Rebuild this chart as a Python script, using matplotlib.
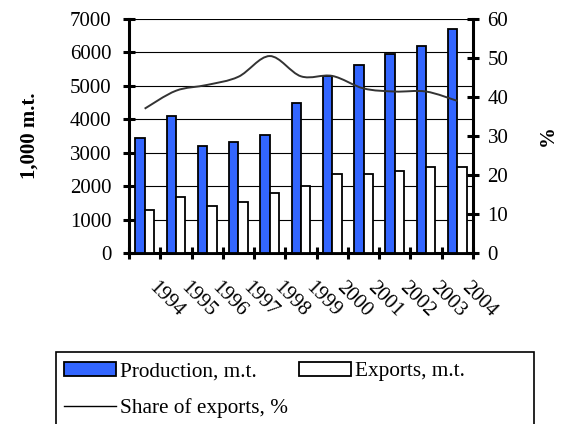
import matplotlib
matplotlib.use("Agg")
import matplotlib.pyplot as plt
import numpy as np
from matplotlib.path import Path
from matplotlib.patches import PathPatch, Patch, Rectangle
from matplotlib.lines import Line2D
from matplotlib.transforms import ScaledTranslation

years = ["1994", "1995", "1996", "1997", "1998", "1999", "2000", "2001", "2002", "2003", "2004"]
production = [3430, 4090, 3200, 3310, 3530, 4480, 5280, 5620, 5960, 6180, 6690]
exports = [1290, 1680, 1400, 1520, 1790, 2010, 2370, 2370, 2460, 2580, 2580]
share = [37.0, 41.6, 43.1, 45.2, 50.5, 45.3, 45.4, 42.2, 41.4, 41.4, 39.0]

plt.rcParams['font.family'] = ['Liberation Serif', 'DejaVu Serif']
FS = 15

fig = plt.figure(figsize=(5.63, 4.24), dpi=100)
ax = fig.add_axes([129/563, 1 - 253/424, (473 - 129)/563, (253 - 19)/424])
ax2 = ax.twinx()

x = np.arange(len(years))
blue = '#3366FF'
ax.bar(x - 0.15, production, width=0.3, color=blue, edgecolor='black', linewidth=1.3, zorder=3)
ax.bar(x + 0.15, exports, width=0.3, color='white', edgecolor='black', linewidth=1.3, zorder=3)

ax.set_ylim(0, 7000)
ax.set_yticks(range(0, 7001, 1000))
ax.set_xlim(-0.5, len(years) - 0.5)
ax.yaxis.grid(True, color='black', linewidth=0.8, zorder=0)
ax.set_axisbelow(True)

# smoothed share line (Catmull-Rom -> cubic Bezier)
pts = np.column_stack([x, share]).astype(float)
verts = [pts[0]]
codes = [Path.MOVETO]
n = len(pts)
for i in range(n - 1):
    p0 = pts[i - 1] if i > 0 else pts[i]
    p1 = pts[i]
    p2 = pts[i + 1]
    p3 = pts[i + 2] if i + 2 < n else pts[i + 1]
    c1 = p1 + (p2 - p0) / 6.0
    c2 = p2 - (p3 - p1) / 6.0
    verts += [c1, c2, p2]
    codes += [Path.CURVE4] * 3
ax2.add_patch(PathPatch(Path(verts, codes), facecolor='none', edgecolor='#333333', linewidth=1.4, zorder=4))
ax2.set_ylim(0, 60)
ax2.set_yticks(range(0, 61, 10))
ax2.patch.set_visible(False)

for a in (ax, ax2):
    a.spines['top'].set_visible(False)
    for s in ('left', 'right', 'bottom'):
        a.spines[s].set_linewidth(2.2)
ax2.spines['left'].set_visible(False)
ax2.spines['bottom'].set_visible(False)
ax.spines['right'].set_visible(False)

ax.tick_params(axis='y', direction='inout', length=9, width=2.2, pad=8, labelsize=FS)
ax2.tick_params(axis='y', direction='inout', length=9, width=2.2, pad=6, labelsize=FS)

# x-axis: boundary ticks (major), labels at centers (minor)
ax.set_xticks(np.arange(-0.5, len(years), 1.0))
ax.set_xticklabels([])
ax.tick_params(axis='x', which='major', direction='inout', length=9, width=2.2)
ax.set_xticks(x, minor=True)
ax.set_xticklabels(years, minor=True, rotation=-45, rotation_mode='anchor', ha='left', va='center', fontsize=FS)
ax.tick_params(axis='x', which='minor', length=0, pad=23)
for lab in ax.get_xticklabels(minor=True):
    lab.set_transform(lab.get_transform() + ScaledTranslation(7/100, 0, fig.dpi_scale_trans))

fig.text(30/563, 1 - 136/424, '1,000 m.t.', rotation=90, ha='center', va='center', fontsize=FS, fontweight='bold')
fig.text(548/563, 1 - 136/424, '%', rotation=90, ha='center', va='center', fontsize=FS, fontweight='bold')

handles = [Patch(facecolor=blue, edgecolor='black', linewidth=1.3),
           Line2D([], [], color='black', linewidth=1.0),
           Patch(facecolor='white', edgecolor='black', linewidth=1.3)]
labels = ['Production, m.t.', 'Share of exports, %', 'Exports, m.t.']
leg = fig.legend(handles, labels, ncol=2, loc='upper left',
                 bbox_to_anchor=(54/563, 1 - 352/424),
                 fontsize=15.3, frameon=False,
                 handlelength=2.45, handleheight=0.65, handletextpad=0.2, columnspacing=0.5,
                 borderpad=0.45, labelspacing=0.8, borderaxespad=0)
fig.add_artist(Rectangle((56/563, -0.05), (534 - 56)/563, (1 - 352/424) + 0.05,
                         transform=fig.transFigure, facecolor='none', edgecolor='black', linewidth=1.2))

fig.savefig('out.png', dpi=100)
